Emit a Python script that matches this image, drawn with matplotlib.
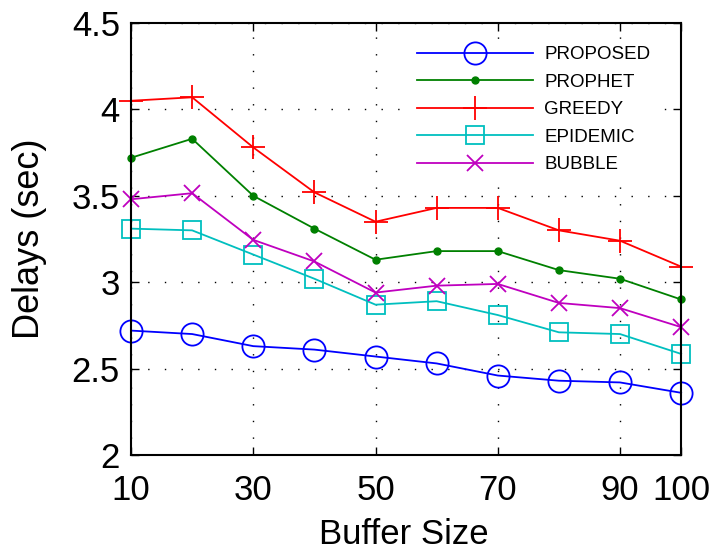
import matplotlib
matplotlib.use("Agg")
import matplotlib.pyplot as plt

plt.rcParams['font.family'] = ['Liberation Sans', 'DejaVu Sans']

buffer_size = [10, 20, 30, 40, 50, 60, 70, 80, 90, 100]

proposed = [2.72, 2.70, 2.63, 2.61, 2.57, 2.53, 2.46, 2.43, 2.42, 2.36]
prophet = [3.72, 3.83, 3.50, 3.31, 3.13, 3.18, 3.18, 3.07, 3.02, 2.90]
greedy = [4.05, 4.07, 3.78, 3.52, 3.35, 3.43, 3.43, 3.30, 3.24, 3.09]
epidemic = [3.31, 3.30, 3.16, 3.02, 2.87, 2.89, 2.81, 2.71, 2.70, 2.585]
bubble = [3.48, 3.515, 3.245, 3.12, 2.94, 2.98, 2.99, 2.88, 2.85, 2.74]

x_ticks = [10, 30, 50, 70, 90, 100]
y_ticks = [2, 2.5, 3, 3.5, 4, 4.5]

fig = plt.figure(figsize=(7.14, 5.5), dpi=100)
ax = fig.add_axes([0.1835, 0.1727, 0.7705, 0.7855])

lw = 1.3
ax.plot(buffer_size, proposed, color='#0000ff', lw=lw, marker='o', ms=16,
        mfc='none', mew=1.3, label='PROPOSED', clip_on=False)
ax.plot(buffer_size, prophet, color='#008000', lw=lw, marker='o', ms=5,
        label='PROPHET', clip_on=False)
ax.plot(buffer_size, greedy, color='#ff0000', lw=lw, marker='+', ms=17,
        mew=1.3, label='GREEDY', clip_on=False)
ax.plot(buffer_size, epidemic, color='#00bfbf', lw=lw, marker='s', ms=13,
        mfc='none', mew=1.3, label='EPIDEMIC', clip_on=False)
ax.plot(buffer_size, bubble, color='#bf00bf', lw=lw, marker='x', ms=12,
        mew=1.3, label='BUBBLE', clip_on=False)

ax.set_xlim(10, 100)
ax.set_ylim(2, 4.5)
ax.set_xticks(x_ticks)
ax.set_yticks(y_ticks)
ax.set_xticklabels([str(t) for t in x_ticks])
ax.set_yticklabels(['2', '2.5', '3', '3.5', '4', '4.5'])

ax.grid(True, color='black', linestyle=(0, (1, 11)), linewidth=1.0)
ax.tick_params(direction='in', top=True, right=True, length=6, width=1,
               labelsize=25)
ax.tick_params(axis='x', pad=14)
ax.tick_params(axis='y', pad=8)
for s in ax.spines.values():
    s.set_linewidth(1.5)

ax.set_xlabel('Buffer Size', fontsize=25)
ax.set_ylabel('Delays (sec)', fontsize=26)
ax.xaxis.set_label_coords(0.495, -0.145)
ax.yaxis.set_label_coords(-0.152, 0.5)

leg = ax.legend(loc='upper right', bbox_to_anchor=(0.975, 0.985), fontsize=13.5,
                handlelength=6.2, handletextpad=0.6, labelspacing=0.55,
                frameon=True, fancybox=False, borderpad=0.4)
leg.get_frame().set_facecolor('white')
leg.get_frame().set_edgecolor('none')
leg.get_frame().set_alpha(1.0)

fig.savefig('out.png', dpi=100)
